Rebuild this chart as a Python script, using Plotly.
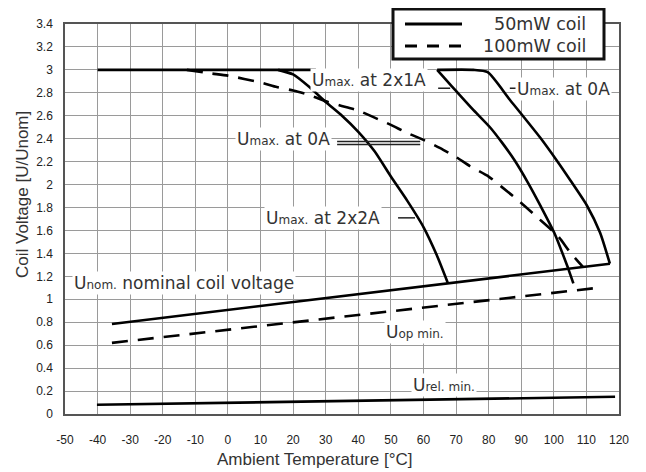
import plotly.graph_objects as go

# ---------------- data ----------------
x_ticks = [-50, -40, -30, -20, -10, 0, 10, 20, 30, 40, 50, 60, 70, 80, 90, 100, 110, 120]
x_ticktext = [str(v) for v in x_ticks]
y_ticks = [0, 0.2, 0.4, 0.6, 0.8, 1, 1.2, 1.4, 1.6, 1.8, 2, 2.2, 2.4, 2.6, 2.8, 3, 3.2, 3.4]
y_ticktext = ["0", "0.2", "0.4", "0.6", "0.8", "1", "1.2", "1.4", "1.6", "1.8", "2",
              "2.2", "2.4", "2.6", "2.8", "3", "3.2", "3.4"]

# 50mW coil (solid)
flat_x = [-40, 27]
flat_y = [3.0, 3.0]
umax_2x2a_x = [15.4, 20, 25, 30, 35, 40, 45, 50, 55, 60, 64, 67.5]
umax_2x2a_y = [3.0, 2.96, 2.85, 2.72, 2.60, 2.46, 2.29, 2.07, 1.86, 1.63, 1.39, 1.14]
umax_2x1a_x = [64.2, 67, 70.2, 75, 80.4, 84, 88, 92, 96, 100.3, 104.4]
umax_2x1a_y = [3.0, 2.91, 2.81, 2.66, 2.50, 2.37, 2.21, 2.02, 1.81, 1.57, 1.27]
umax_0a_x = [64.2, 75.3, 79.7, 86.5, 95.8, 100.9, 105, 110.1, 114.2, 117.2]
umax_0a_y = [3.0, 3.0, 2.98, 2.74, 2.41, 2.21, 2.04, 1.82, 1.58, 1.31]
unom_x = [-35.6, 117.2]
unom_y = [0.785, 1.31]
urel_x = [-40.2, 118.8]
urel_y = [0.08, 0.15]

# 100mW coil (dashed)
d_umax_0a_x = [-12.6, -5.5, 0, 10, 15, 20, 25, 30.7, 34.4, 39.6, 44.5, 50, 55, 60, 65,
               70, 74.3, 80, 84, 89.6, 94.7, 101.3, 105, 109]
d_umax_0a_y = [3.0, 2.97, 2.95, 2.89, 2.85, 2.82, 2.78, 2.72, 2.69, 2.65, 2.59, 2.52, 2.45,
               2.39, 2.32, 2.24, 2.16, 2.07, 1.98, 1.85, 1.72, 1.55, 1.41, 1.28]
d_umax_2x1a_x = [104.4, 106.7]
d_umax_2x1a_y = [1.27, 1.08]
uop_x = [-35.6, 113.5]
uop_y = [0.62, 1.10]

legend_names = ["50mW coil", "100mW coil"]

# ---------------- figure ----------------
# the page body adds an 8px offset; size the figure so it fits the window exactly
PAGE_OFF = 8
FIG_W, FIG_H = 646 - PAGE_OFF, 472 - PAGE_OFF
PLOT_L, PLOT_R, PLOT_T, PLOT_B = 65, 619, 24, 414   # plot area in window pixels

SOLID = dict(color="black", width=2.6)
SOLID_CURVE = dict(color="black", width=2.6, shape="spline", smoothing=0.6)
DASH = dict(color="black", width=2.6, dash="16px,10px")
DASH_CURVE = dict(color="black", width=2.6, dash="16px,10px", shape="spline", smoothing=0.6)

fig = go.Figure()
solid_series = [(flat_x, flat_y, SOLID), (umax_2x2a_x, umax_2x2a_y, SOLID_CURVE),
                (umax_2x1a_x, umax_2x1a_y, SOLID_CURVE), (umax_0a_x, umax_0a_y, SOLID_CURVE),
                (unom_x, unom_y, SOLID), (urel_x, urel_y, SOLID)]
dash_series = [(d_umax_0a_x, d_umax_0a_y, DASH_CURVE), (d_umax_2x1a_x, d_umax_2x1a_y, DASH),
               (uop_x, uop_y, DASH)]
for xs, ys, ln in solid_series:
    fig.add_trace(go.Scatter(x=xs, y=ys, mode="lines", line=ln, name=legend_names[0],
                             legendgroup="50", showlegend=False, hoverinfo="skip"))
for xs, ys, ln in dash_series:
    fig.add_trace(go.Scatter(x=xs, y=ys, mode="lines", line=ln, name=legend_names[1],
                             legendgroup="100", showlegend=False, hoverinfo="skip"))

LBL = dict(family="DejaVu Sans, Verdana, sans-serif", size=17, color="#333333")
def sub(t):
    return "<span style='font-size:12px'>" + t + "</span>"

labels = [
    ("U" + sub("max.") + " at 2x1A", 43.3, 2.91),
    ("U" + sub("max.") + " at 0A", 103.1, 2.83),
    ("U" + sub("max.") + " at 0A", 17.05, 2.40),
    ("U" + sub("max.") + " at 2x2A", 29.3, 1.706),
    ("U" + sub("nom.") + " nominal coil voltage", -13.5, 1.142),
    ("U" + sub("op min."), 57.4, 0.715),
    ("U" + sub("rel. min."), 66.3, 0.253),
]
annotations = []
for t, ax_, ay_ in labels:
    annotations.append(dict(text=t, x=ax_, y=ay_, xref="x", yref="y", showarrow=False,
                            font=LBL, bgcolor="white", borderpad=1,
                            xanchor="center", yanchor="middle"))

# leader lines for labels
leaders = [(64.5, 68.2, 2.84), (86.5, 88.7, 2.84), (33.5, 59.0, 2.375), (33.5, 59.0, 2.35),
           (52.2, 57.4, 1.71)]
shapes = []
for x0, x1, yy in leaders:
    shapes.append(dict(type="line", xref="x", yref="y", x0=x0, x1=x1, y0=yy, y1=yy,
                       line=dict(color="#222222", width=1.5)))

# custom legend box (positions given in window pixels of the reference)
def px_x(p):
    return (p - PLOT_L) / float(PLOT_R - PLOT_L)
def px_y(p):
    return (PLOT_B - p) / float(PLOT_B - PLOT_T)

shapes.append(dict(type="rect", xref="paper", yref="paper", x0=px_x(393), x1=px_x(604),
                   y0=px_y(59), y1=px_y(9), fillcolor="white",
                   line=dict(color="#111111", width=3), layer="above"))
shapes.append(dict(type="line", xref="paper", yref="paper", x0=px_x(405), x1=px_x(462),
                   y0=px_y(24), y1=px_y(24), line=dict(color="black", width=3), layer="above"))
shapes.append(dict(type="line", xref="paper", yref="paper", x0=px_x(405), x1=px_x(462),
                   y0=px_y(46), y1=px_y(46), line=dict(color="black", width=3, dash="12px,10px"),
                   layer="above"))
LEG = dict(family="DejaVu Sans, Verdana, sans-serif", size=17.5, color="#333333")
for name, py in zip(legend_names, [24, 46]):
    annotations.append(dict(text=name, x=px_x(588), y=px_y(py), xref="paper", yref="paper",
                            showarrow=False, font=LEG, xanchor="right", yanchor="middle"))

TITLE = dict(family="Liberation Sans, Arial, sans-serif", size=17, color="#333333")
annotations.append(dict(text="Ambient Temperature [°C]", x=px_x(314.5), y=px_y(459),
                        xref="paper", yref="paper", showarrow=False, font=TITLE,
                        xanchor="center", yanchor="middle"))
annotations.append(dict(text="Coil Voltage [U/Unom]", x=px_x(22), y=px_y(195),
                        xref="paper", yref="paper", showarrow=False, font=TITLE, textangle=-90,
                        xanchor="center", yanchor="middle"))

TICK = dict(family="Liberation Sans, Arial, sans-serif", size=12, color="#222222")
fig.update_layout(
    width=FIG_W, height=FIG_H,
    margin=dict(l=PLOT_L - PAGE_OFF, r=FIG_W - (PLOT_R - PAGE_OFF),
                t=PLOT_T - PAGE_OFF, b=FIG_H - (PLOT_B - PAGE_OFF), autoexpand=False),
    paper_bgcolor="white", plot_bgcolor="white",
    showlegend=False,
    annotations=annotations,
    shapes=shapes,
    xaxis=dict(range=[-50, 120], tickvals=x_ticks, ticktext=x_ticktext, showgrid=True,
               gridcolor="#9a9a9a", gridwidth=1.3, zeroline=False, showline=True,
               linecolor="#555555", linewidth=1.5, mirror=True, ticks="",
               ticklabelstandoff=14, tickfont=TICK, fixedrange=True),
    yaxis=dict(range=[0, 3.4], tickvals=y_ticks, ticktext=y_ticktext, showgrid=True,
               gridcolor="#9a9a9a", gridwidth=1.3, zeroline=False, showline=True,
               linecolor="#555555", linewidth=1.5, mirror=True, ticks="",
               ticklabelstandoff=8, tickfont=TICK, fixedrange=True),
)

fig.write_html("out.html")
